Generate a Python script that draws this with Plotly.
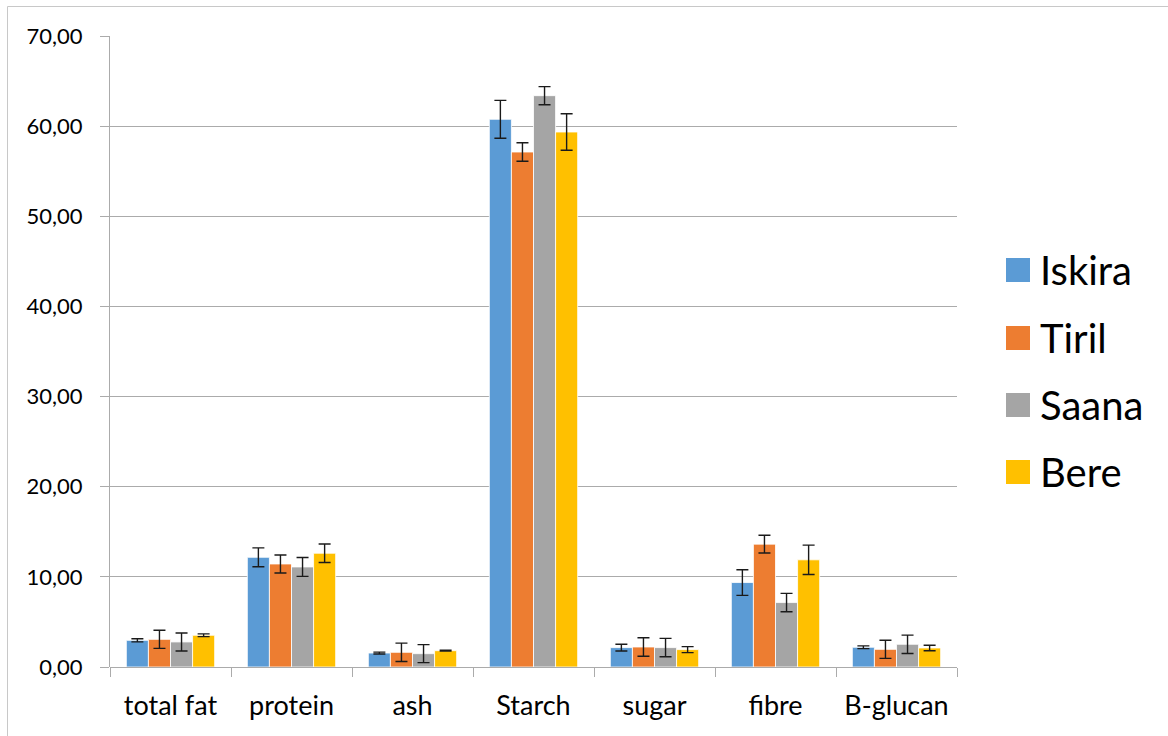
import plotly.graph_objects as go

categories = ["total fat", "protein", "ash", "Starch", "sugar", "fibre", "B-glucan"]
series_names = ["Iskira", "Tiril", "Saana", "Bere"]
colors = ["#5B9BD5", "#ED7D31", "#A5A5A5", "#FFC000"]

iskira = [2.96, 12.17, 1.55, 60.76, 2.15, 9.37, 2.19]
tiril = [3.07, 11.43, 1.63, 57.13, 2.22, 13.63, 1.96]
saana = [2.78, 11.10, 1.48, 63.38, 2.15, 7.15, 2.52]
bere = [3.52, 12.62, 1.81, 59.35, 1.93, 11.89, 2.11]

iskira_err = [0.17, 1.05, 0.10, 2.10, 0.37, 1.42, 0.15]
tiril_err = [1.00, 1.00, 1.02, 1.03, 1.03, 0.98, 1.00]
saana_err = [1.00, 1.05, 1.00, 1.00, 1.02, 1.02, 1.02]
bere_err = [0.15, 1.03, 0.05, 2.03, 0.33, 1.63, 0.30]

values = [iskira, tiril, saana, bere]
errors = [iskira_err, tiril_err, saana_err, bere_err]

FONT = "Lato"
W, H = 1168, 736
ML, MR, MT, MB = 110, 211, 36, 69

fig = go.Figure()
for name, vals, errs, col in zip(series_names, values, errors, colors):
    fig.add_trace(go.Bar(
        x=categories, y=vals, name=name, showlegend=False,
        marker=dict(color=col, line=dict(color="white", width=0.8)),
        error_y=dict(type="data", array=errs, visible=True,
                     color="#1a1a1a", thickness=1.4, width=6),
    ))

# manual legend (large squares like the original)
pw = W - ML - MR
ph = H - MT - MB
def px2paper_x(px):
    return (px - ML) / pw
def px2paper_y(py):
    return (H - MB - py) / ph

shapes = []
annotations = []
leg_y = [270, 338, 405, 472]
for name, col, cy in zip(series_names, colors, leg_y):
    shapes.append(dict(type="rect", xref="paper", yref="paper",
                       x0=px2paper_x(1006), x1=px2paper_x(1030),
                       y0=px2paper_y(cy + 12), y1=px2paper_y(cy - 12),
                       fillcolor=col, line=dict(width=0)))
    annotations.append(dict(xref="paper", yref="paper", x=px2paper_x(1038),
                            y=px2paper_y(cy), text=name, showarrow=False,
                            xanchor="left", yanchor="middle",
                            font=dict(family=FONT, size=40, color="#000000")))

# chart border (left and top visible)
shapes.append(dict(type="rect", xref="paper", yref="paper",
                   x0=px2paper_x(7.5), x1=px2paper_x(1200),
                   y0=px2paper_y(800), y1=px2paper_y(6.5),
                   line=dict(color="#C8C8C8", width=1), fillcolor="rgba(0,0,0,0)",
                   layer="below"))

fig.update_layout(
    width=W, height=H,
    margin=dict(l=ML, r=MR, t=MT, b=MB),
    paper_bgcolor="white", plot_bgcolor="white",
    barmode="group", bargap=0.27, bargroupgap=0,
    separators=", ",
    font=dict(family=FONT, size=22, color="#000000"),
    shapes=shapes, annotations=annotations,
    xaxis=dict(
        type="category", showgrid=False, showline=False,
        ticks="outside", tickson="boundaries", ticklen=9, tickcolor="#ABABAB",
        tickfont=dict(family=FONT, size=27, color="#000000"), ticklabelstandoff=20,
        zeroline=False,
    ),
    yaxis=dict(
        range=[0, 70], dtick=10, tickformat=".2f", showgrid=True, gridcolor="#ABABAB",
        gridwidth=1, showline=True, linecolor="#ABABAB", linewidth=1,
        ticks="outside", ticklen=9, tickcolor="#ABABAB",
        tickfont=dict(family=FONT, size=22, color="#000000"), ticklabelstandoff=13,
        zeroline=True, zerolinecolor="#ABABAB", zerolinewidth=1,
    ),
)

fig.write_html("out.html", config={"displayModeBar": False},
               post_script="document.body.style.margin='0px';")
